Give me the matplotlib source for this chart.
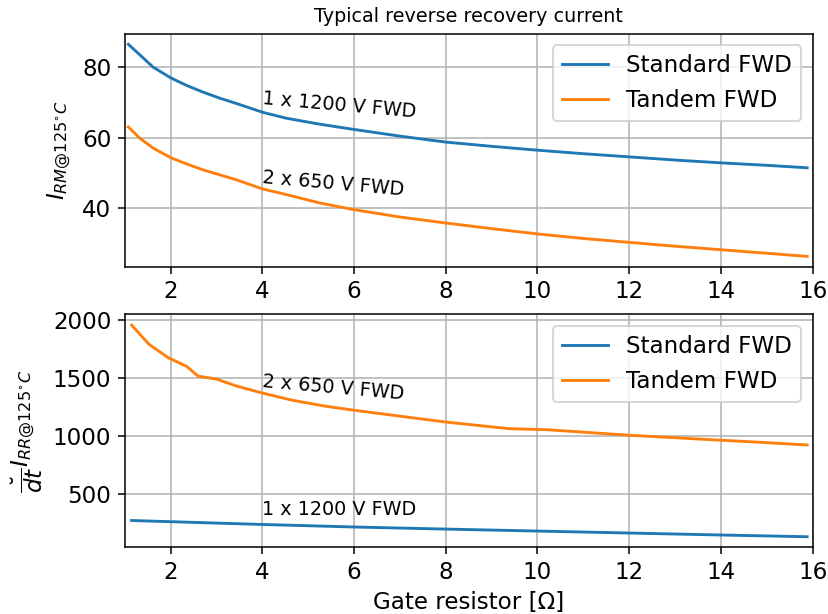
import matplotlib
matplotlib.use("Agg")
import matplotlib.pyplot as plt

plt.rcParams["font.size"] = 12

# gate resistor values [Ohm]
rg_irm = [1.08, 1.33, 1.62, 2.0, 2.35, 2.71, 3.07, 3.43, 4.0, 4.52, 5.25, 6.0,
          7.0, 8.0, 9.0, 10.0, 11.0, 12.0, 13.0, 14.0, 15.0, 15.88]
irm_std = [86.5, 83.5, 80.0, 77.0, 74.8, 72.9, 71.2, 69.7, 67.2, 65.5, 63.8, 62.3,
           60.4, 58.7, 57.5, 56.4, 55.4, 54.5, 53.6, 52.8, 52.1, 51.4]
irm_tandem = [63.0, 59.8, 57.0, 54.3, 52.5, 50.8, 49.4, 48.0, 45.4, 43.8, 41.4, 39.5,
              37.4, 35.7, 34.1, 32.6, 31.3, 30.2, 29.1, 28.1, 27.1, 26.2]

rg_didt_tandem = [1.15, 1.53, 1.95, 2.35, 2.6, 3.0, 3.43, 4.0, 4.67, 5.39, 6.13,
                  8.0, 9.37, 10.2, 12.0, 14.0, 14.83, 15.88]
didt_tandem = [1960, 1794, 1678, 1604, 1519, 1494, 1435, 1373, 1310, 1259, 1218,
               1123, 1066, 1057, 1009, 966, 949, 925]
rg_didt_std = [1.15, 4.0, 6.0, 8.0, 10.0, 12.0, 14.0, 15.88]
didt_std = [273, 239, 217, 199, 182, 165, 148, 133]

labels = ["Standard FWD", "Tandem FWD"]

fig = plt.figure(figsize=(828 / 138, 614 / 138), dpi=138)
ax1 = fig.add_axes([0.1506, 0.5651, 0.8309, 0.38])
ax2 = fig.add_axes([0.1506, 0.1086, 0.8309, 0.3792])

ax1.plot(rg_irm, irm_std, label=labels[0])
ax1.plot(rg_irm, irm_tandem, label=labels[1])
ax1.set_title("Typical reverse recovery current", fontsize=10)
ax1.set_ylabel(r"$I_{RM@125^{\circ}C}$")
ax1.text(4, 69.4, "1 x 1200 V FWD", rotation=-5, rotation_mode="anchor", fontsize=10)
ax1.text(4, 47.1, "2 x 650 V FWD", rotation=-5, rotation_mode="anchor", fontsize=10)
ax1.set_xlim(1, 16)
ax1.grid(True)
ax1.legend(loc="upper right")

ax2.plot(rg_didt_std, didt_std, label=labels[0])
ax2.plot(rg_didt_tandem, didt_tandem, label=labels[1])
ax2.set_ylabel(r"$\dfrac{\breve{}}{dt}I_{RR@125^{\circ}C}$")
ax2.set_xlabel("Gate resistor [Ω]")
ax2.text(4, 1423, "2 x 650 V FWD", rotation=-5, rotation_mode="anchor", fontsize=10)
ax2.text(4, 322, "1 x 1200 V FWD", fontsize=10)
ax2.set_xlim(1, 16)
ax2.grid(True)
ax2.legend(loc="upper right")

fig.savefig("out.png", dpi=138)
